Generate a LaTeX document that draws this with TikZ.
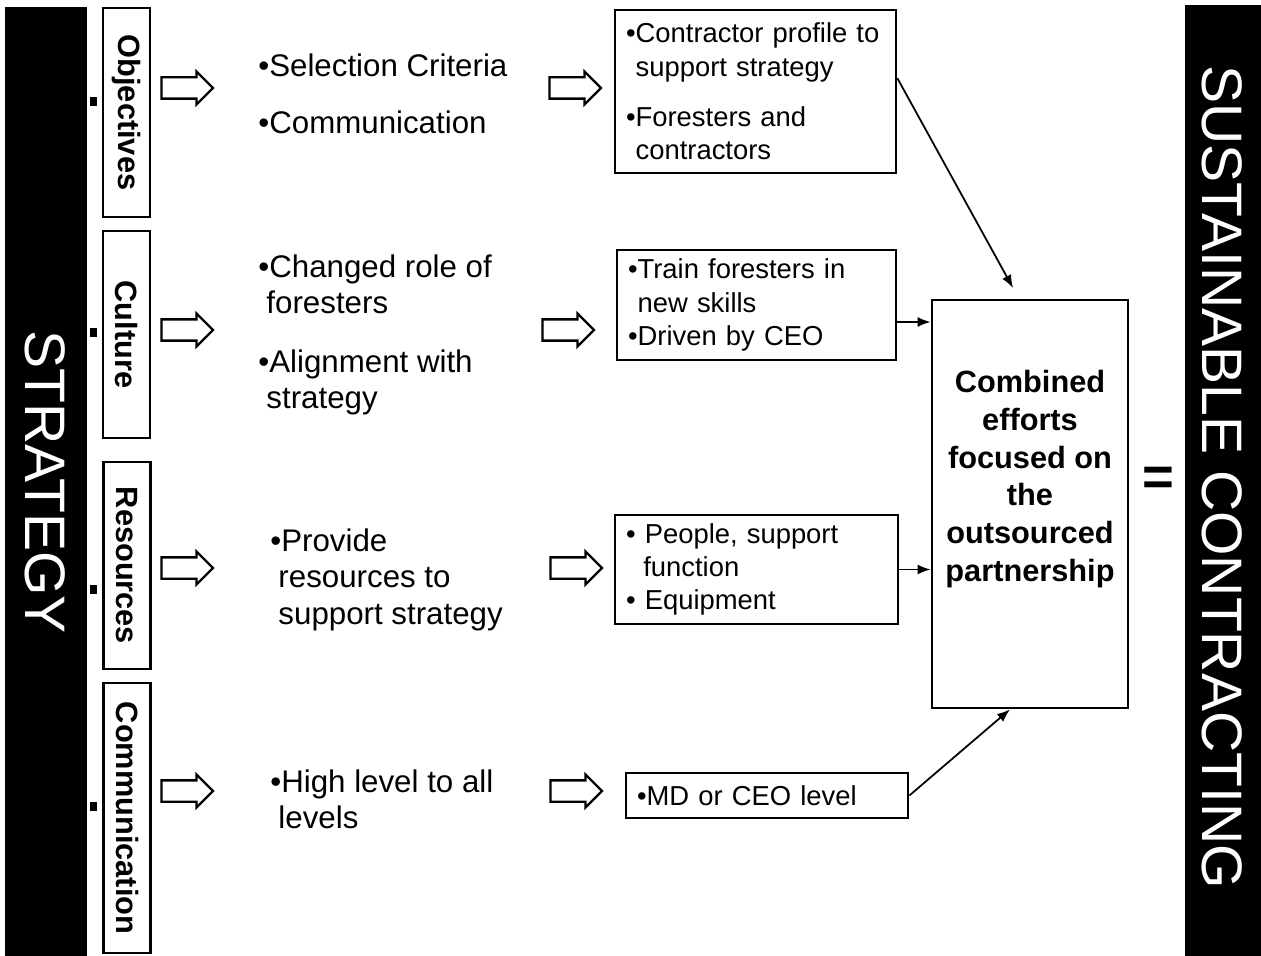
\documentclass[tikz,border=0pt]{standalone}
\usepackage{fontspec}
\setmainfont{Liberation Sans}
\usetikzlibrary{calc,shapes.arrows,arrows.meta}

\tikzset{
  catbox/.style={draw, line width=1.6pt, rotate=-90, minimum height=0.94cm,
    inner sep=0pt, font=\fontsize{17.5}{21}\selectfont\bfseries},
  hollow/.style={draw, line width=1.3pt, single arrow, minimum height=1.03cm,
    single arrow head extend=0.12cm, single arrow head indent=0pt,
    inner xsep=0pt, inner ysep=0.19cm},
  point/.style={anchor=north west, inner sep=0pt, align=left,
    font=\fontsize{17.8}{21}\selectfont},
  infobox/.style={draw, line width=1.6pt, align=left, inner xsep=0.22cm,
    inner ysep=0pt, font=\fontsize{15.6}{19}\selectfont},
  link/.style={line width=1pt, -{Latex[length=2.6mm,width=2mm]}},
  bartext/.style={white, rotate=-90, font=\fontsize{32.5}{36}\selectfont}
}

\begin{document}
\begin{tikzpicture}[x=0.02cm, y=-0.02cm]
  \useasboundingbox (0,0) rectangle (1261,956);

  % black side bars
  \fill (5,7) rectangle (87,956);
  \fill (1185,5) rectangle (1261,956);
  \node[bartext] (strategy) at (45,482) {STRATEGY};
  \node[bartext] (sustain) at (1222,477) {SUSTAINABLE CONTRACTING};

  % category boxes
  \node[catbox, minimum width=4.18cm] (obj) at (126.5,112.5) {Objectives};
  \node[catbox, minimum width=4.14cm] (cul) at (126.5,334.5) {Culture};
  \node[catbox, minimum width=4.14cm] (res) at (127,565.5) {Resources};
  \node[catbox, minimum width=5.40cm] (com) at (127,818) {Communication};

  % small markers
  \foreach \y in {102,333,590,807}
    \fill (90,\y-5) rectangle (97,\y+4);

  % hollow arrows
  \foreach \y [count=\i] in {88,330,568,791}
    \node[hollow] (ha\i) at (182,\y) {};
  \foreach \x/\y [count=\i] in {570/88,563/330,571/568,571/791}
    \node[hollow] (hb\i) at (\x,\y) {};

  % middle column
  \node[point] (sel) at (258,53) {•Selection Criteria};
  \node[point] (comm) at (258,110) {•Communication};
  \node[point] (role) at (258,254) {•Changed role of\\\hspace*{0.26em}foresters};
  \node[point] (align) at (258,349) {•Alignment with\\\hspace*{0.26em}strategy};
  \node[point] (prov) at (270,528) {•Provide\\\hspace*{0.26em}resources to\\\hspace*{0.26em}support strategy};
  \node[point] (high) at (270,769) {•High level to all\\\hspace*{0.26em}levels};

  % result boxes
  \node[infobox, text width=5.18cm, minimum height=3.26cm] (b1) at (755.5,91.5)
    {•Contractor profile to\\\hspace*{0.35em}support strategy\\[0.33cm]•Foresters and\\\hspace*{0.35em}contractors};
  \node[infobox, text width=5.14cm, minimum height=2.2cm] (b2) at (756.5,305)
    {•Train foresters in\\\hspace*{0.35em}new skills\\•Driven by CEO};
  \node[infobox, text width=5.22cm, minimum height=2.18cm] (b3) at (756.5,569.5)
    {• People, support\\\hspace*{0.63em}function\\• Equipment};
  \node[infobox, text width=5.2cm, minimum height=0.9cm] (b4) at (767,795.5)
    {•MD or CEO level};

  % combined box
  \node[draw, line width=1.6pt, minimum width=3.92cm, minimum height=8.16cm] (big) at (1030,504) {};
  \node[align=center, font=\fontsize{17.5}{21.5}\selectfont\bfseries] (bigtext) at (1030,479)
    {Combined\\efforts\\focused on\\the\\outsourced\\partnership};
  \node[font=\fontsize{31}{31}\selectfont\bfseries] (eq) at (1158,481) {=};

  % connectors
  \coordinate (bigtop) at (1013,288);
  \coordinate (c2) at ($(b2.east)+(0,17)$);
  \draw[link] ($(b1.north east)!0.42!(b1.south east)$) -- (bigtop);
  \draw[link] (c2) -- (c2 -| big.west);
  \draw[link] (b3.east) -- (b3.east -| big.west);
  \draw[link] (b4.east) -- ([xshift=-0.4cm]big.south);

\end{tikzpicture}
\end{document}
